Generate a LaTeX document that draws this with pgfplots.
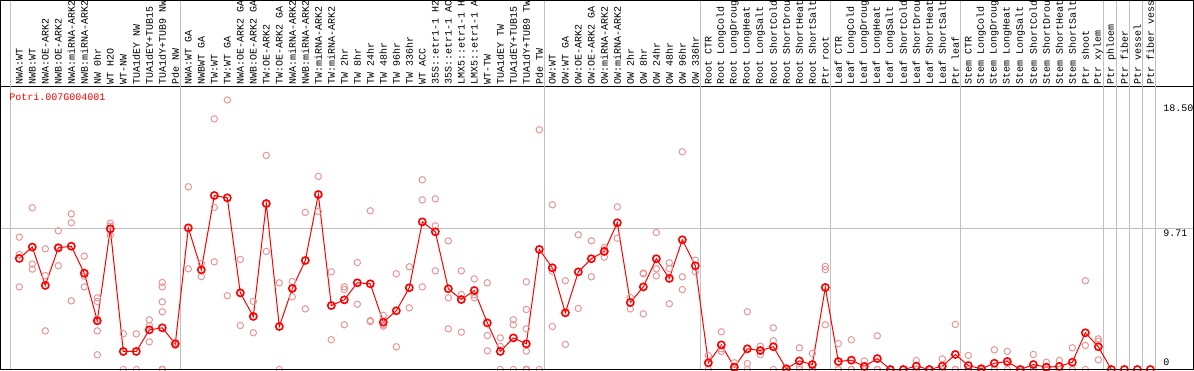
\documentclass[border=0pt]{standalone}
\usepackage{pgfplots}
\pgfplotsset{compat=1.18}
\usepackage{fontspec}
\newfontfamily\monofont{Liberation Mono}
\definecolor{rep}{RGB}{233,150,150}
\definecolor{gridg}{RGB}{192,192,192}
\begin{document}
\begin{tikzpicture}
\useasboundingbox (0,0) rectangle (1194pt,370pt);
\clip (0,0) rectangle (1194pt,370pt);
\begin{axis}[
  at={(0.5pt,0.5pt)}, anchor=south west,
  scale only axis, width=1193pt, height=283pt,
  xmin=-0.446, xmax=91.323, ymin=0, ymax=19.42,
  axis line style={black, line width=1pt},
  clip=false,
  xtick={1,...,88},
  xticklabels={NWA:WT,NWB:WT,NWA:OE-ARK2,NWB:OE-ARK2,NWA:miRNA-ARK2,NWB:miRNA-ARK2,NW 0hr,WT H2O,WT-NW,TUA1dEY NW,TUA1dEY+TUB15,TUA1dY+TUB9 NW,Pde NW,NWA:WT GA,NWBWT GA,TW:WT,TW:WT GA,NWA:OE-ARK2 GA,NWB:OE-ARK2 GA,TW:OE-ARK2,TW:OE-ARK2 GA,NWA:miRNA-ARK2,NWB:miRNA-ARK2,TW:miRNA-ARK2,TW:miRNA-ARK2,TW 2hr,TW 8hr,TW 24hr,TW 48hr,TW 96hr,TW 336hr,WT ACC,35S::etr1-1 H2,35S::etr1-1 AC,LMX5::etr1-1 H,LMX5::etr1-1 A,WT-TW,TUA1dEY TW,TUA1dEY+TUB15,TUA1dY+TUB9 TW,Pde TW,OW:WT,OW:WT GA,OW:OE-ARK2,OW:OE-ARK2 GA,OW:miRNA-ARK2,OW:miRNA-ARK2,OW 2hr,OW 8hr,OW 24hr,OW 48hr,OW 96hr,OW 336hr,Root CTR,Root LongCold,Root LongDroug,Root LongHeat,Root LongSalt,Root ShortCold,Root ShortDrou,Root ShortHeat,Root ShortSalt,Ptr root,Leaf CTR,Leaf LongCold,Leaf LongDroug,Leaf LongHeat,Leaf LongSalt,Leaf ShortCold,Leaf ShortDrou,Leaf ShortHeat,Leaf ShortSalt,Ptr leaf,Stem CTR,Stem LongCold,Stem LongDroug,Stem LongHeat,Stem LongSalt,Stem ShortCold,Stem ShortDrou,Stem ShortHeat,Stem ShortSalt,Ptr shoot,Ptr xylem,Ptr phloem,Ptr fiber,Ptr vessel,Ptr fiber vess},
  xticklabel pos=upper,
  xticklabel style={rotate=90, anchor=west, font=\monofont\fontsize{10}{12}\selectfont, inner sep=1.5pt, text=black},
  major tick length=0pt,
  ytick=\empty,
]
\pgfplotsinvokeforeach{0.3,13.38,41.38,53.38,63.38,73.38,84.4,85.4,86.4,87.4,88.4}{
  \draw[gridg, line width=1pt] (axis cs:#1,0) -- (axis cs:#1,26);
}
\draw[gridg, line width=1pt] (axis cs:-1,9.71) -- (axis cs:92,9.71);

\addplot[only marks, mark=o, mark size=3.2pt, color=rep, mark options={line width=1pt}] coordinates {
(1,9.08) (1,7.89) (1,5.67)
(2,11.10) (2,7.23) (2,6.89)
(3,8.28) (3,6.45) (3,2.65)
(4,9.52) (4,7.12) (4,8.40)
(5,10.68) (5,10.07) (5,4.71)
(6,7.78) (6,5.67) (6,6.40)
(7,4.92) (7,4.67) (7,3.48) (7,2.65) (7,1.01)
(8,10.04) (8,9.84) (8,9.20)
(9,2.45) (9,0)
(10,2.45) (10,0)
(11,3.41) (11,3.02) (11,1.90)
(12,5.97) (12,5.67) (12,4.64) (12,3.96) (12,0) (12,0) (12,0)
(13,1.88) (13,1.65)
(14,12.54) (14,6.91)
(15,7.28) (15,6.38)
(16,17.20) (16,11.12) (16,7.39)
(17,18.50) (17,5.06)
(18,7.55) (18,3.02)
(19,4.67) (19,2.52)
(20,14.69) (20,8.10)
(21,5.95) (21,0)
(22,6.04) (22,4.99) (22,5.60)
(23,10.78) (23,4.16)
(24,13.25) (24,10.84)
(25,6.70) (25,2.04)
(26,5.67) (26,5.49) (26,3.07)
(27,7.34) (27,4.48)
(28,10.89) (28,3.36) (28,3.29)
(29,3.71) (29,3.07) (29,2.97)
(30,6.57) (30,1.56)
(31,7.05) (31,4.23)
(32,13.02) (32,11.64) (32,5.67)
(33,11.71) (33,9.86) (33,6.77)
(34,8.83) (34,4.92) (34,2.79)
(35,6.77) (35,5.15) (35,2.56)
(36,6.22) (36,4.92) (36,5.12)
(37,5.95) (37,2.33) (37,1.28)
(38,2.17) (38,1.58) (38,0)
(39,3.41) (39,3.07) (39,0)
(40,6.02) (40,4.12) (40,2.79) (40,1.26) (40,0) (40,0) (40,0) (40,0)
(41,16.45) (41,0)
(42,11.30) (42,6.75) (42,2.95)
(43,6.09) (43,1.72)
(44,9.24) (44,4.19)
(45,8.83) (45,6.36)
(46,8.37) (46,7.71) (46,8.20)
(47,11.16) (47,9.01)
(48,4.94) (48,4.16)
(49,6.57) (49,3.82) (49,6.62)
(50,9.40) (50,6.91) (50,6.43)
(51,7.32) (51,6.93) (51,4.51)
(52,14.94) (52,6.36) (52,5.49)
(53,7.50) (53,6.70)
(54,0.96) (54,0.42) (54,0)
(55,2.59) (55,1.42) (55,1.24)
(56,0.46) (56,0) (56,0)
(57,3.96) (57,0.41) (57,0)
(58,1.60) (58,1.01) (58,1.30)
(59,2.86) (59,1.97) (59,0)
(60,0.10) (60,0) (60,0)
(61,1.49) (61,0.16) (61,0)
(62,1.10) (62,0) (62,0)
(63,7.07) (63,6.86) (63,3.07)
(64,1.78) (64,0) (64,0)
(65,2.04) (65,0) (65,0)
(66,0.59) (66,0) (66,0)
(67,2.31) (67,0) (67,0)
(68,0) (68,0)
(69,0) (69,0)
(70,0.62) (70,0) (70,0)
(71,0) (71,0)
(72,0.73) (72,0) (72,0)
(73,3.09) (73,0) (73,0)
(74,0.96) (74,0) (74,0)
(75,0.10) (75,0) (75,0)
(76,1.35) (76,0) (76,0)
(77,1.24) (77,0.41) (77,0)
(78,0) (78,0)
(79,1.03) (79,0) (79,0)
(80,0.50) (80,0) (80,0)
(81,0.62) (81,0) (81,0)
(82,1.49) (82,0) (82,0)
(83,6.09) (83,1.65) (83,0)
(84,2.10) (84,1.94) (84,0.66)
};

\addplot[red, line width=1pt, mark=o, mark size=3.6pt, mark options={line width=1.6pt}] coordinates {
(1,7.62) (2,8.40) (3,5.77) (4,8.35) (5,8.46) (6,6.61) (7,3.34) (8,9.65) (9,1.24) (10,1.24)
(11,2.72) (12,2.86) (13,1.76) (14,9.72) (15,6.84) (16,11.94) (17,11.78) (18,5.26) (19,3.64) (20,11.39)
(21,2.95) (22,5.56) (23,7.48) (24,12.01) (25,4.39) (26,4.78) (27,5.95) (28,5.88) (29,3.25) (30,4.03)
(31,5.61) (32,10.13) (33,9.45) (34,5.54) (35,4.80) (36,5.42) (37,3.20) (38,1.24) (39,2.17) (40,1.76)
(41,8.24) (42,6.98) (43,3.89) (44,6.70) (45,7.60) (46,8.10) (47,10.07) (48,4.60) (49,5.67) (50,7.60)
(51,6.25) (52,8.90) (53,7.12) (54,0.46) (55,1.69) (56,0.16) (57,1.42) (58,1.30) (59,1.56) (60,0.05)
(61,0.59) (62,0.34) (63,5.63) (64,0.55) (65,0.64) (66,0.21) (67,0.75) (68,0) (69,0) (70,0.23)
(71,0) (72,0.23) (73,1.03) (74,0.27) (75,0.05) (76,0.43) (77,0.55) (78,0) (79,0.34) (80,0.16)
(81,0.21) (82,0.50) (83,2.52) (84,1.56) (85,0) (86,0) (87,0) (88,0)
};

\node[anchor=north west, inner sep=0pt, text=red, font=\monofont\fontsize{10}{12}\selectfont] at (axis cs:0.23,18.94) {Potri.007G004001};
\node[anchor=north west, inner sep=0pt, font=\monofont\fontsize{10}{12}\selectfont] at (axis cs:88.98,18.19) {18.50};
\node[anchor=north west, inner sep=0pt, font=\monofont\fontsize{10}{12}\selectfont] at (axis cs:88.98,9.61) {9.71};
\node[anchor=north west, inner sep=0pt, font=\monofont\fontsize{10}{12}\selectfont] at (axis cs:88.98,0.755) {0};
\end{axis}
\draw[black, line width=1pt] (0.5pt,0.5pt) rectangle (1193.5pt,369.5pt);
\end{tikzpicture}
\end{document}
